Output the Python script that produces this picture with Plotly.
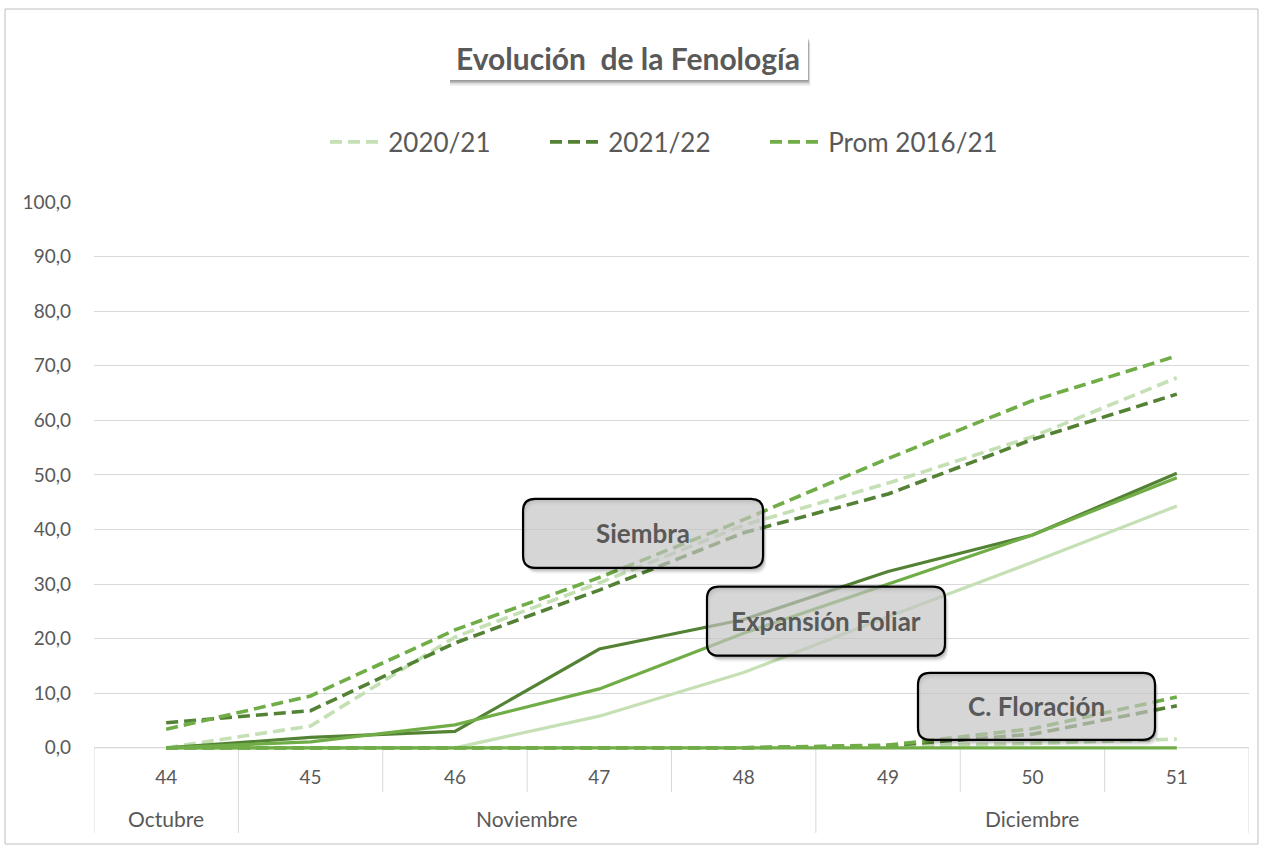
import plotly.graph_objects as go

# ---------------- data ----------------
weeks = ["44", "45", "46", "47", "48", "49", "50", "51"]
months = ["Octubre", "Noviembre", "Noviembre", "Noviembre", "Noviembre",
          "Diciembre", "Diciembre", "Diciembre"]

series_names = ["2020/21", "2021/22", "Prom 2016/21"]

siembra_2020_21 = [0.0, 4.0, 20.3, 30.2, 40.8, 48.5, 57.0, 67.8]
siembra_2021_22 = [4.6, 6.8, 19.2, 28.9, 39.4, 46.5, 56.5, 64.8]
siembra_prom = [3.4, 9.5, 21.6, 31.2, 41.8, 53.0, 63.6, 71.8]

expansion_2020_21 = [0.0, 0.0, 0.0, 5.8, 13.8, 24.0, 34.0, 44.3]
expansion_2021_22 = [0.0, 1.9, 3.0, 18.1, 23.5, 32.3, 39.0, 50.3]
expansion_prom = [0.0, 1.1, 4.2, 10.8, 21.0, 30.0, 39.0, 49.5]

floracion_2020_21 = [0.0, 0.0, 0.0, 0.0, 0.0, 0.3, 0.8, 1.6]
floracion_2021_22 = [0.0, 0.0, 0.0, 0.0, 0.0, 0.4, 2.5, 7.7]
floracion_prom = [0.0, 0.0, 0.0, 0.0, 0.0, 0.5, 3.5, 9.3]

otra_fase_prom = [0.0, 0.0, 0.0, 0.0, 0.0, 0.0, 0.0, 0.0]

stage_labels = ["Siembra", "Expansión Foliar", "C. Floración"]

# ---------------- styles ----------------
C_LIGHT = "#C5E0B4"
C_DARK = "#548235"
C_MED = "#70AD47"
TXT = "#595959"
GRID = "#D9D9D9"
FONT = "Lato"
DASH = "12px,6px"

W_FIG, H_FIG = 1262, 850
Y_LOW = -0.4                      # small headroom below zero so the zero line is not clipped
L, R, T = 94, 13, 202
PLOT_BOTTOM = 748 + 2             # pixel row of the plot-area bottom
B = H_FIG - PLOT_BOTTOM
PW = W_FIG - L - R
PH = PLOT_BOTTOM - T


def px_x(p):
    return (p - L) / PW


def px_y(p):
    return (PLOT_BOTTOM - p) / PH


x = list(range(len(weeks)))

fig = go.Figure()

colors = [C_LIGHT, C_DARK, C_MED]

# Siembra (dashed, shown in legend)
for name, vals, col in zip(series_names, [siembra_2020_21, siembra_2021_22, siembra_prom], colors):
    fig.add_trace(go.Scatter(x=x, y=vals, mode="lines", name="\u2009" + name,
                             line=dict(color=col, width=3.6, dash=DASH),
                             showlegend=True, hoverinfo="skip"))

# invisible spacer entry so the last legend label is not clipped
fig.add_trace(go.Scatter(x=[None], y=[None], mode="lines", name="",
                         line=dict(color="rgba(0,0,0,0)", width=0),
                         showlegend=True, hoverinfo="skip"))

# Expansión foliar (solid)
for name, vals, col in zip(series_names, [expansion_2020_21, expansion_2021_22, expansion_prom], colors):
    fig.add_trace(go.Scatter(x=x, y=vals, mode="lines", name="Exp " + name,
                             line=dict(color=col, width=3.2),
                             showlegend=False, hoverinfo="skip"))

# Floración (dashed)
for name, vals, col in zip(series_names, [floracion_2020_21, floracion_2021_22, floracion_prom], colors):
    fig.add_trace(go.Scatter(x=x, y=vals, mode="lines", name="Flor " + name,
                             line=dict(color=col, width=3.6, dash=DASH),
                             showlegend=False, hoverinfo="skip"))

# Other phase at zero (solid)
fig.add_trace(go.Scatter(x=x, y=otra_fase_prom, mode="lines", name="Otra fase",
                         line=dict(color=C_MED, width=3.2), showlegend=False, hoverinfo="skip"))

shapes = []
annotations = []

# Outer chart border
shapes.append(dict(type="rect", xref="paper", yref="paper",
                   x0=px_x(5), x1=px_x(1258), y0=px_y(844), y1=px_y(9),
                   line=dict(color="#BFBFBF", width=1), fillcolor="rgba(0,0,0,0)", layer="below"))

n = len(weeks)

# Category axis line at zero
shapes.append(dict(type="line", xref="x", yref="y", x0=-0.5, x1=n - 0.5, y0=0, y1=0,
                   line=dict(color=GRID, width=1), layer="below"))

# Category separators
for i in range(n + 1):
    long_line = i == 0 or i == n or months[i] != months[i - 1]
    shapes.append(dict(type="line", xref="x", yref="paper",
                       x0=i - 0.5, x1=i - 0.5, y0=px_y(748), y1=px_y(833 if long_line else 792),
                       line=dict(color=GRID, width=1), layer="below"))

# Month labels
groups = []
start = 0
for i in range(1, n + 1):
    if i == n or months[i] != months[start]:
        groups.append((months[start], start, i - 1))
        start = i
for m, a, b in groups:
    annotations.append(dict(x=(a + b) / 2, y=px_y(818), xref="x", yref="paper",
                            text=m, showarrow=False, font=dict(family=FONT, size=21, color=TXT),
                            xanchor="center", yanchor="middle"))

# Title box with soft shadow
tx0, tx1, ty0, ty1 = 448, 808, 37, 80
for off, a in [(6, 0.05), (4.5, 0.09), (3, 0.14), (1.5, 0.18)]:
    shapes.append(dict(type="rect", xref="paper", yref="paper",
                       x0=px_x(tx0 + 2), x1=px_x(tx1 + off * 0.4),
                       y0=px_y(ty1 + off), y1=px_y(ty0 + off),
                       line=dict(width=0), fillcolor=f"rgba(0,0,0,{a})", layer="above"))
shapes.append(dict(type="rect", xref="paper", yref="paper",
                   x0=px_x(tx0), x1=px_x(tx1), y0=px_y(ty1), y1=px_y(ty0),
                   line=dict(width=0), fillcolor="white", layer="above"))
annotations.append(dict(x=px_x((tx0 + tx1) / 2), y=px_y(58), xref="paper", yref="paper",
                        text="<b>Evolución  de la Fenología</b>", showarrow=False,
                        font=dict(family=FONT, size=30, color=TXT),
                        xanchor="center", yanchor="middle"))


def rrect(w, h, r, dx=0.0, dy=0.0, reverse=False):
    x0, x1 = -w / 2 + dx, w / 2 + dx
    y0, y1 = -h / 2 + dy, h / 2 + dy
    if not reverse:
        return (f"M{x0 + r},{y0} L{x1 - r},{y0} Q{x1},{y0} {x1},{y0 + r} "
                f"L{x1},{y1 - r} Q{x1},{y1} {x1 - r},{y1} L{x0 + r},{y1} "
                f"Q{x0},{y1} {x0},{y1 - r} L{x0},{y0 + r} Q{x0},{y0} {x0 + r},{y0} Z")
    return (f"M{x0 + r},{y0} Q{x0},{y0} {x0},{y0 + r} L{x0},{y1 - r} "
            f"Q{x0},{y1} {x0 + r},{y1} L{x1 - r},{y1} Q{x1},{y1} {x1},{y1 - r} "
            f"L{x1},{y0 + r} Q{x1},{y0} {x1 - r},{y0} Z")


# Stage label boxes (anchored in data coordinates; pixel sized)
box_layout = [
    dict(ax=3.303, ay=39.3, w=240, h=69),
    dict(ax=4.570, ay=23.2, w=238, h=69),
    dict(ax=6.028, ay=7.6, w=237, h=67),
]
for lab, bl in zip(stage_labels, box_layout):
    inner = rrect(bl["w"], bl["h"], 12, reverse=True)
    for off, a in [(6, 0.05), (4.5, 0.08), (3, 0.12), (1.5, 0.15)]:
        shapes.append(dict(type="path", xref="x", yref="y", xsizemode="pixel", ysizemode="pixel",
                           xanchor=bl["ax"], yanchor=bl["ay"],
                           path=rrect(bl["w"], bl["h"], 12, dx=off * 0.6, dy=-off) + " " + inner,
                           line=dict(width=0), fillcolor=f"rgba(0,0,0,{a})", layer="above"))
    shapes.append(dict(type="path", xref="x", yref="y", xsizemode="pixel", ysizemode="pixel",
                       xanchor=bl["ax"], yanchor=bl["ay"],
                       path=rrect(bl["w"], bl["h"], 12),
                       line=dict(color="black", width=2.2),
                       fillcolor="rgba(195,195,195,0.68)", layer="above"))
    annotations.append(dict(x=bl["ax"], y=bl["ay"], xref="x", yref="y",
                            text=f"<b>{lab}</b>", showarrow=False,
                            font=dict(family=FONT, size=26, color=TXT),
                            xanchor="center", yanchor="middle"))

fig.update_layout(
    width=W_FIG, height=H_FIG,
    margin=dict(l=L, r=R, t=T, b=B, pad=0),
    paper_bgcolor="white", plot_bgcolor="white",
    separators=",.",
    font=dict(family=FONT, color=TXT),
    showlegend=True,
    legend=dict(orientation="h", x=px_x(325), xanchor="left", y=px_y(142), yanchor="middle",
                font=dict(family=FONT, size=26, color=TXT),
                entrywidth=155, entrywidthmode="pixels", itemwidth=50,
                bgcolor="rgba(0,0,0,0)"),
    xaxis=dict(range=[-0.5, n - 0.5], tickvals=x, ticktext=weeks, showgrid=False,
               zeroline=False, showline=False,
               ticks="", ticklabelstandoff=14, layer="below traces",
               tickfont=dict(family=FONT, size=19, color=TXT)),
    yaxis=dict(range=[Y_LOW, 100], tickvals=[0, 10, 20, 30, 40, 50, 60, 70, 80, 90, 100],
               tickformat=".1f", showgrid=True, gridcolor=GRID,
               gridwidth=1, zeroline=False, showline=False, ticks="",
               ticklabelstandoff=22, layer="below traces",
               tickfont=dict(family=FONT, size=19, color=TXT)),
    shapes=shapes,
    annotations=annotations,
)

fig.write_html("out.html", config={"displayModeBar": False},
               post_script="document.body.style.margin='0';")
